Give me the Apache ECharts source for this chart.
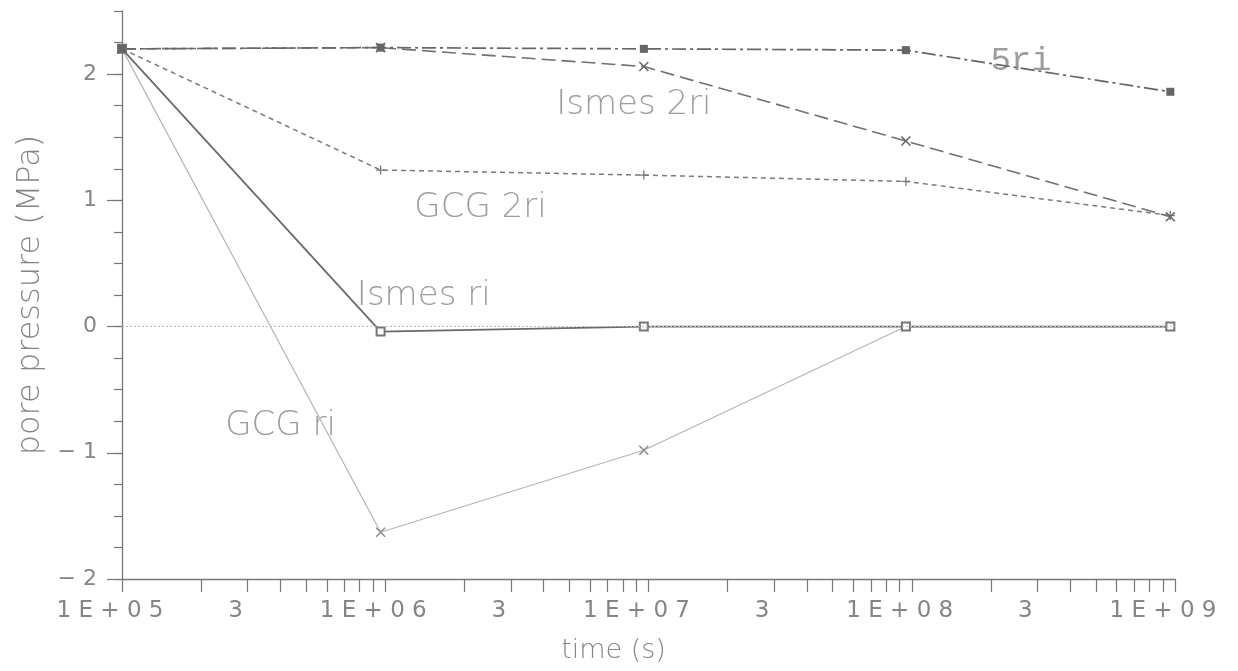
<!DOCTYPE html>
<html>
<head>
<meta charset="utf-8">
<script src="https://cdn.jsdelivr.net/npm/echarts@6/dist/echarts.min.js"></script>
<style>
  html, body { margin: 0; padding: 0; background: #fff; }
  #chart { width: 1238px; height: 671px; }
</style>
</head>
<body>
<div id="chart"></div>
<script>
// time (s) at which values were computed
const times = [1e5, 9.6e5, 9.6e6, 9.5e7, 9.6e8];
// pore pressure (MPa)
const s5ri      = [2.20, 2.21, 2.20, 2.19, 1.86];
const ismes2ri  = [2.20, 2.21, 2.06, 1.47, 0.87];
const gcg2ri    = [2.20, 1.24, 1.20, 1.15, 0.88];
const ismesRi   = [2.20, -0.04, 0.00, 0.00, 0.00];
const gcgRi     = [2.20, -1.63, -0.98, 0.00, 0.00];

// curve labels: [name, time, pressure]
const curveLabels = [
  ['Ismes 2ri', 8.8e6, 1.75],
  ['GCG 2ri',   2.3e6, 0.94],
  ['Ismes ri',  1.4e6, 0.24],
  ['GCG ri',    4.0e5, -0.79]
];
const label5ri = ['5ri', 2.6e8, 2.10];

// axis ticks
const xTickValues = [];
for (let e = 5; e <= 8; e++) for (let m = 1; m <= 9; m++) xTickValues.push(m * Math.pow(10, e));
xTickValues.push(1e9);
const xLabelValues = [1e5, 3e5, 1e6, 3e6, 1e7, 3e7, 1e8, 3e8, 1e9];
const yLabelValues = [-2, -1, 0, 1, 2];

const pair = arr => arr.map((v, i) => [times[i], v]);
const crossPath = 'path://M0,0L10,10M10,0L0,10';
const plusPath = 'path://M5,0L5,10M0,5L10,5';
const txt = '#858585';
const font = 'DejaVu Sans';

const chart = echarts.init(document.getElementById('chart'));
chart.setOption({
  backgroundColor: '#fff',
  animation: false,
  grid: { left: 122, right: 63, top: 11, bottom: 92 },
  xAxis: {
    type: 'log', logBase: 10, min: 1e5, max: 1e9,
    name: 'time (s)', nameLocation: 'middle', nameGap: 58,
    nameTextStyle: { fontFamily: font, fontSize: 27, color: txt, fontWeight: 300, padding: [0, 70, 0, 0] },
    axisLine: { onZero: false, lineStyle: { color: '#777', width: 1.3 } },
    axisTick: { show: true, inside: false, length: 13, customValues: xTickValues, lineStyle: { color: '#777', width: 1.2 } },
    minorTick: { show: false },
    splitLine: { show: false },
    axisLabel: {
      customValues: xLabelValues, margin: 21,
      fontFamily: font, fontSize: 23, color: txt, padding: [0, 24, 0, 0],
      formatter: v => {
        const e = Math.log10(v);
        if (Math.abs(e - Math.round(e)) < 1e-6) return '1 E + 0 ' + Math.round(e);
        return '3';
      }
    }
  },
  yAxis: [{
    type: 'value', min: -2, max: 2.5, interval: 0.25,
    name: 'pore pressure (MPa)', nameLocation: 'middle', nameGap: 74, nameRotate: 90,
    nameTextStyle: { fontFamily: font, fontSize: 32, color: txt, fontWeight: 300 },
    axisLine: { show: true, onZero: false, lineStyle: { color: '#777', width: 1.3 } },
    axisTick: { show: true, length: 8, lineStyle: { color: '#777', width: 1.2 } },
    splitLine: { show: false },
    axisLabel: {
      customValues: yLabelValues, margin: 25,
      fontFamily: font, fontSize: 22, color: txt,
      formatter: v => v < 0 ? '\u2212 ' + Math.abs(v) : String(v)
    }
  }, {
    type: 'value', min: -2, max: 2.5, position: 'left', offset: 0,
    axisLine: { show: false },
    axisTick: { show: true, length: 15, customValues: yLabelValues, lineStyle: { color: '#777', width: 1.2 } },
    axisLabel: { show: false },
    splitLine: { show: false }
  }],
  series: [
    {
      name: 'zero', type: 'line', data: [], silent: true,
      markLine: {
        silent: true, symbol: ['none', 'none'], label: { show: false },
        lineStyle: { color: '#bbb', type: [2, 2], width: 1 },
        data: [{ yAxis: 0 }]
      }
    },
    {
      name: 'GCG ri', type: 'line', data: pair(gcgRi),
      symbol: crossPath, symbolSize: 9,
      lineStyle: { color: '#b5b5b5', width: 1.2, type: 'solid' },
      itemStyle: { color: 'rgba(0,0,0,0)', borderColor: '#888', borderWidth: 1.3 }
    },
    {
      name: 'Ismes ri', type: 'line', data: pair(ismesRi),
      symbol: 'emptyRect', symbolSize: 8,
      lineStyle: { color: '#6a6a6a', width: 1.8, type: 'solid' },
      itemStyle: { color: '#777', borderWidth: 1.3 }
    },
    {
      name: 'GCG 2ri', type: 'line', data: pair(gcg2ri),
      symbol: plusPath, symbolSize: 9,
      lineStyle: { color: '#7a7a7a', width: 1.5, type: [5, 4] },
      itemStyle: { color: 'rgba(0,0,0,0)', borderColor: '#777', borderWidth: 1.3 }
    },
    {
      name: 'Ismes 2ri', type: 'line', data: pair(ismes2ri),
      symbol: crossPath, symbolSize: 9,
      lineStyle: { color: '#707070', width: 1.6, type: [14, 6] },
      itemStyle: { color: 'rgba(0,0,0,0)', borderColor: '#666', borderWidth: 1.6 }
    },
    {
      name: '5ri', type: 'line', data: pair(s5ri),
      symbol: 'rect', symbolSize: 8,
      lineStyle: { color: '#666', width: 1.7, type: [14, 4, 3, 4] },
      itemStyle: { color: '#666' }
    },
    {
      name: 'labels', type: 'scatter', symbolSize: 0, silent: true,
      data: curveLabels.map(d => ({ name: d[0], value: [d[1], d[2]] })),
      label: {
        show: true, position: 'inside', formatter: p => p.name,
        fontFamily: font, fontSize: 34, color: '#858585', fontWeight: 300
      },
      labelLayout: { hideOverlap: false }
    },
    {
      name: 'label5ri', type: 'scatter', symbolSize: 0, silent: true,
      data: [{ name: label5ri[0], value: [label5ri[1], label5ri[2]] }],
      label: {
        show: true, position: 'inside', formatter: p => p.name,
        fontFamily: 'Liberation Mono', fontSize: 34, color: '#858585'
      },
      labelLayout: { hideOverlap: false }
    }
  ]
});
</script>
</body>
</html>
